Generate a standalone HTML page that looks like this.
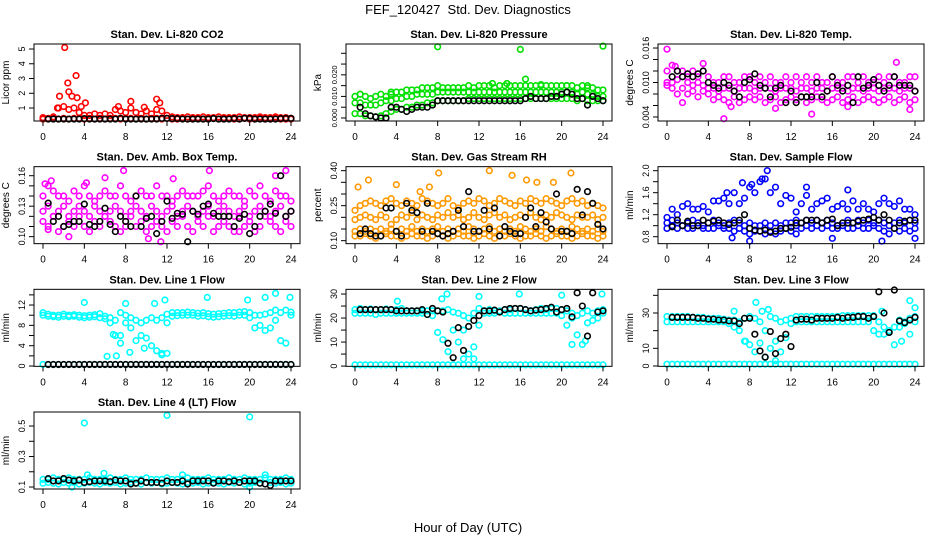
<!DOCTYPE html>
<html><head><meta charset="utf-8"><title>FEF_120427 Std. Dev. Diagnostics</title>
<style>
html,body{margin:0;padding:0;background:#fff;}
svg{display:block;font-family:"Liberation Sans",Arial,sans-serif;}
</style></head>
<body>
<svg id="chart" width="936" height="540" viewBox="0 0 936 540" xmlns="http://www.w3.org/2000/svg">
<rect x="0" y="0" width="936" height="540" fill="#fff"/>
<text x="468" y="14" font-size="13" text-anchor="middle">FEF_120427&#160; Std. Dev. Diagnostics</text>
<text x="468" y="532" font-size="13" text-anchor="middle">Hour of Day (UTC)</text>
</svg>
<script>
const H=[0,0.5,1,1.5,2,2.5,3,3.5,4,4.5,5,5.5,6,6.5,7,7.5,8,8.5,9,9.5,10,10.5,11,11.5,12,12.5,13,13.5,14,14.5,15,15.5,16,16.5,17,17.5,18,18.5,19,19.5,20,20.5,21,21.5,22,22.5,23,23.5,24];
const xTicks=[0,4,8,12,16,20,24];

/* Panel 1: CO2 */
const co2Upper=[0.35,0.3,0.4,1.0,1.1,0.9,1.0,0.7,0.5,0.5,0.6,0.5,0.6,0.5,0.9,0.8,0.7,1.0,0.7,0.6,0.8,0.6,0.9,0.8,0.5,0.4,0.35,0.35,0.4,0.35,0.35,0.4,0.35,0.35,0.4,0.35,0.35,0.35,0.4,0.35,0.35,0.35,0.4,0.35,0.35,0.4,0.35,0.35,0.3];
const co2Lower=[0.25,0.25,0.3,0.25,0.3,0.25,0.3,0.3,0.25,0.3,0.25,0.3,0.25,0.3,0.3,0.25,0.3,0.3,0.25,0.3,0.25,0.3,0.3,0.25,0.3,0.25,0.25,0.3,0.25,0.25,0.3,0.25,0.25,0.3,0.25,0.25,0.3,0.25,0.25,0.3,0.25,0.25,0.3,0.25,0.25,0.3,0.25,0.25,0.25];
const co2Black=[null,0.25,0.25,0.25,0.25,0.25,0.25,0.25,0.28,0.25,0.25,0.25,0.25,0.25,0.25,0.3,0.25,0.25,0.25,0.25,0.25,0.25,0.25,0.3,0.3,0.28,0.28,0.25,0.25,0.25,0.25,0.25,0.25,0.28,0.25,0.25,0.25,0.28,0.25,0.3,0.3,0.25,0.25,0.25,0.25,0.25,0.28,0.3,0.3];
const co2OutHours=[1.6,2.1,2.4,2.5,2.8,3.2,3.3,3.7,4.1,7.3,8.5,9.8,11,11.3,1.4];
const co2OutValues=[1.8,5.1,2.7,2.1,1.8,3.2,1.7,1.1,1.35,1.1,1.45,1.05,1.6,1.35,1.0];

/* Panel 2: Pressure */
const pUpper=[.010,.011,.010,.009,.010,.011,.010,.011,.012,.012,.013,.013,.013,.014,.014,.014,.015,.014,.014,.014,.014,.014,.015,.014,.015,.015,.015,.014,.015,.015,.015,.015,.015,.015,.015,.015,.015,.015,.015,.015,.015,.015,.015,.014,.015,.014,.014,.013,.013];
const pMid=[.007,.007,.006,.006,.006,.007,.008,.008,.009,.009,.010,.010,.011,.011,.011,.011,.012,.012,.012,.012,.012,.012,.012,.012,.012,.012,.012,.012,.012,.012,.012,.012,.012,.012,.012,.012,.012,.012,.012,.012,.012,.012,.012,.011,.012,.011,.011,.010,.010];
const pLower=[.002,.002,.001,.001,.0005,.001,.002,.003,.004,.004,.005,.005,.006,.006,.007,.007,.008,.008,.008,.008,.008,.008,.009,.009,.009,.009,.009,.009,.009,.009,.009,.009,.009,.009,.009,.009,.009,.009,.009,.009,.009,.009,.009,.008,.009,.008,.008,.008,.008];
const pBlack=[null,.005,.002,.001,.0005,.0,.0,.005,.005,.004,.003,.004,.005,.005,.005,.006,.008,.008,.008,.008,.008,.008,.008,.008,.008,.008,.008,.008,.008,.008,.008,.008,.008,.009,.010,.009,.009,.009,.010,.010,.011,.012,.011,.009,.009,.006,.010,.009,.008];
const pOutHours=[8,16,24,16.5,13.3,14.7,20.5,18,22.5,3.5,0.5];
const pOutValues=[.033,.0318,.0333,.018,.016,.016,.015,.0155,.015,.012,.011];

/* Panel 3: Li-820 Temp */
const tUpper=[.012,.013,.012,.012,.011,.012,.011,.012,.011,.010,.010,.011,.011,.010,.010,.011,.011,.010,.011,.010,.011,.010,.010,.011,.010,.011,.010,.011,.010,.011,.010,.010,.011,.010,.010,.011,.011,.010,.011,.010,.010,.011,.010,.011,.011,.010,.010,.011,.011];
const tMid=[.010,.010,.0105,.011,.010,.0095,.010,.0095,.009,.009,.0085,.009,.009,.0085,.009,.009,.009,.0085,.009,.009,.009,.0085,.009,.009,.009,.0085,.009,.009,.0085,.009,.009,.0085,.009,.009,.009,.0085,.009,.009,.0085,.009,.009,.0085,.009,.009,.009,.0085,.009,.009,.0085];
const tLower=[.0095,.009,.008,.009,.008,.0085,.0075,.0085,.008,.007,.0075,.007,.0065,.0075,.0065,.007,.0075,.007,.0075,.0065,.007,.0075,.0065,.007,.0075,.007,.0075,.0065,.007,.0075,.007,.0065,.007,.0075,.0065,.007,.0075,.0065,.007,.0075,.007,.0065,.007,.0075,.0065,.007,.0075,.0065,.007];
const tBlack=[null,.011,.012,.011,.0115,.011,.0115,.012,.010,.0095,.009,.010,.0095,.0085,.0075,.010,.0105,.0115,.0095,.009,.0075,.009,.0095,.0065,.0085,.0065,.0075,.0075,.0075,.010,.0075,.0085,.011,.0095,.0085,.0095,.0065,.011,.009,.0095,.0105,.0095,.0085,.0095,.011,.0095,.0095,.0095,.0085];
const tOutHours=[0,5.5,14,23.5,1.5,6.2,22.2,3.5,0.8,10.5,17.5];
const tOutValues=[.0158,.0037,.0045,.0053,.0065,.0058,.0135,.0133,.0128,.0055,.0058];

/* Panel 4: Amb. Box Temp */
const aUpper=[.14,.15,.145,.14,.14,.135,.145,.14,.15,.14,.135,.14,.145,.14,.14,.15,.14,.135,.14,.145,.14,.14,.15,.14,.14,.135,.14,.145,.14,.14,.14,.145,.15,.14,.135,.14,.145,.14,.14,.135,.145,.14,.15,.14,.135,.145,.14,.14,.135];
const aMid=[.125,.13,.12,.125,.13,.12,.125,.13,.125,.12,.13,.125,.12,.125,.13,.125,.12,.125,.13,.125,.12,.13,.125,.12,.125,.13,.12,.125,.13,.125,.12,.125,.13,.12,.125,.13,.125,.12,.125,.13,.12,.125,.13,.125,.12,.125,.13,.12,.125];
const aLower=[.115,.11,.12,.105,.11,.115,.11,.12,.11,.105,.115,.11,.12,.115,.11,.105,.11,.12,.11,.115,.105,.11,.115,.11,.105,.115,.11,.12,.11,.105,.115,.11,.12,.105,.11,.115,.11,.105,.12,.11,.115,.105,.11,.12,.115,.11,.105,.115,.11];
const aBlack=[null,.133,.115,.12,.11,.112,.115,.115,.132,.112,.11,.115,.128,.112,.105,.12,.115,.11,.14,.11,.118,.12,.103,.115,.135,.118,.123,.122,.095,.125,.122,.13,.132,.123,.12,.12,.12,.11,.118,.122,.103,.11,.12,.125,.132,.123,.16,.12,.125];
const aOutHours=[0.2,0.8,2.5,6,7.8,11.4,16.1,23.5,22.5,10.2,4.2,19,0.5,12.6];
const aOutValues=[.152,.155,.10,.158,.165,.095,.165,.165,.16,.098,.153,.105,.107,.157];

/* Panel 5: Gas Stream RH */
const rUpper=[.23,.25,.26,.27,.26,.25,.27,.28,.26,.25,.27,.26,.25,.28,.27,.26,.25,.26,.28,.25,.24,.26,.27,.26,.28,.27,.25,.26,.28,.27,.26,.25,.27,.26,.28,.27,.26,.28,.27,.26,.25,.27,.28,.26,.27,.25,.26,.25,.24];
const rMid=[.19,.2,.21,.2,.19,.21,.2,.17,.19,.21,.2,.22,.19,.21,.2,.19,.21,.2,.22,.2,.21,.19,.2,.22,.2,.19,.21,.22,.2,.21,.19,.2,.21,.2,.22,.2,.19,.21,.2,.22,.21,.2,.19,.21,.2,.2,.21,.19,.2];
const rLow1=[.14,.15,.14,.15,.14,.15,.14,.15,.14,.15,.14,.16,.14,.15,.14,.15,.16,.14,.15,.14,.15,.14,.16,.15,.14,.15,.16,.14,.15,.14,.15,.14,.16,.15,.14,.15,.14,.16,.15,.14,.15,.14,.16,.15,.14,.15,.14,.15,.14];
const rLow2=[.12,.12,.13,.12,.11,.12,.13,.12,.12,.11,.12,.13,.12,.12,.11,.12,.13,.12,.11,.12,.13,.12,.12,.11,.12,.13,.12,.11,.12,.12,.13,.12,.11,.12,.12,.13,.12,.11,.12,.13,.12,.12,.11,.12,.13,.12,.12,.11,.12];
const rBlack=[null,.13,.15,.13,.12,.12,.24,.24,.14,.12,.26,.23,.22,.14,.26,.14,.13,.12,.13,.14,.23,.16,.31,.14,.14,.23,.15,.24,.12,.16,.14,.13,.13,.20,.24,.16,.22,.18,.15,.30,.14,.14,.13,.32,.21,.31,.26,.17,.15];
const rOutHours=[0.3,1.3,8.1,13,15.2,20.9,16.6,19.2,7.2,4,6.3,17.6];
const rOutValues=[.33,.36,.39,.40,.38,.39,.36,.35,.33,.34,.31,.35];

/* Panel 6: Sample Flow */
const sUpper=[1.15,1.3,1.2,1.35,1.4,1.3,1.3,1.35,1.25,1.45,1.45,1.5,1.4,1.6,1.4,1.5,1.7,1.6,1.8,1.85,1.6,1.7,1.4,1.55,1.5,1.25,1.4,1.55,1.3,1.4,1.45,1.5,1.3,1.35,1.4,1.3,1.45,1.3,1.4,1.3,1.25,1.4,1.5,1.4,1.35,1.45,1.3,1.3,1.2];
const sMid=[1.05,1.1,1.05,1.0,1.05,1.1,1.05,1.0,1.05,1.1,1.05,1.0,1.05,1.1,1.05,1.0,1.05,1.0,1.0,1.05,1.0,1.05,1.0,1.05,1.05,1.1,1.05,1.1,1.05,1.1,1.05,1.1,1.05,1.0,1.05,1.1,1.05,1.1,1.05,1.1,1.05,1.1,1.05,1.0,1.05,1.1,1.05,1.1,1.05];
const sLower=[0.95,1.0,0.95,1.0,0.95,0.95,1.0,0.95,0.95,0.95,1.0,0.95,0.95,0.9,0.95,0.9,0.85,0.9,0.9,0.85,0.9,0.85,0.9,0.95,0.9,1.0,0.95,1.0,0.95,1.0,0.95,1.0,0.95,0.95,1.0,0.95,0.95,1.0,0.95,0.95,1.0,0.95,0.9,0.85,0.95,0.9,0.95,0.9,0.95];
const sBlack=[null,0.98,1.1,1.0,1.08,1.0,1.0,1.1,1.05,1.08,1.1,1.05,1.02,1.05,1.1,1.2,0.95,0.92,0.9,0.92,0.88,0.9,0.95,0.95,0.97,1.05,1.05,1.1,1.1,1.1,1.05,1.1,1.12,1.0,1.05,1.05,1.05,1.08,1.1,1.12,1.15,1.1,1.2,1.1,0.95,1.05,1.08,1.1,1.1];
const sOutHours=[9.7,8.2,7.3,6.3,8,20.8,16,24,12.5,5.8,17.5,9.2,13.5];
const sOutValues=[2.0,1.75,1.78,0.78,0.72,0.72,0.77,0.77,0.85,1.6,1.65,1.85,1.7];

/* Panel 7: Line 1 Flow */
const l1Main=[10.5,10.2,10,10,10.2,10,10.1,10,9.9,10,10.1,10.3,9.8,9.5,9,10.5,10,9.5,9,8.5,9,9.5,9,9.5,10.2,10.5,10.5,10.5,10.6,10.5,10.4,10.5,10.3,10.2,10.3,10.4,10.5,10.5,10.6,10.7,10.5,10,10,10.2,10.5,11,10.5,11,10.6];
const l1Dip=[10,9.8,9.7,9.6,9.8,9.7,9.8,9.6,9.5,9.6,9.7,9.5,9.3,8.5,6,4.5,8.5,7.5,5,6,5.5,4,3,2.5,8.5,9.8,9.9,10,10,10,9.8,9.9,9.7,9.6,9.7,9.8,9.9,9.8,10,10,9.5,7.5,8,7,7.5,9,5,4.5,10];
const l1Zero=[0.3,0.3,0.3,0.3,0.3,0.3,0.3,0.3,0.3,0.3,0.3,0.3,0.3,0.3,0.3,0.3,0.3,0.3,0.3,0.3,0.3,0.3,0.3,0.3,0.3,0.3,0.3,0.3,0.3,0.3,0.3,0.3,0.3,0.3,0.3,0.3,0.3,0.3,0.3,0.3,0.3,0.3,0.3,0.3,0.3,0.3,0.3,0.3,0.3];
const l1Black=[null,0.3,0.3,0.3,0.3,0.3,0.3,0.3,0.3,0.3,0.3,0.3,0.3,0.3,0.3,0.3,0.3,0.3,0.3,0.3,0.3,0.3,0.3,0.3,0.3,0.3,0.3,0.3,0.3,0.3,0.3,0.3,0.3,0.3,0.3,0.3,0.3,0.3,0.3,0.3,0.3,0.3,0.3,0.3,0.3,0.3,0.3,0.3,0.3];
const l1OutHours=[4,8,10.8,11.8,15.9,21.5,22.5,23.9,6.2,7.1,11.5,12,9.8,8.4,19.8,6.8,7.5];
const l1OutValues=[12.5,12.3,12.3,13,13.5,13.5,14.3,13.5,1.9,2,2.2,2.5,3.5,2.7,13,6.2,6];

/* Panel 8: Line 2 Flow */
const l2Main=[23.5,24,23.5,23.8,23.5,23.5,23.8,23.5,23.5,24,23,23,23,23,23,23,23,23,23.5,22.5,22,21,20,22,24,23,23.5,23,23,23.5,23.5,24,24,23.5,23,23.5,24,23.5,24,24,23.5,23,22,21,22,23,22,23,23.5];
const l2Dip=[22,22,22,22,21.5,22,22,22,22,22,22,22,22,22,21.5,21,14,11,6,15,10,15,5,8,17,22,22,22,22.5,22,22,22,22,22,22,22,22,22,22,22,21,17,20,13,9,18,19,20,22];
const l2Zero=[0.5,0.5,0.5,0.5,0.5,0.5,0.5,0.5,0.5,0.5,0.5,0.5,0.5,0.5,0.5,0.5,0.5,0.5,0.5,0.5,0.5,0.5,0.5,0.5,0.5,0.5,0.5,0.5,0.5,0.5,0.5,0.5,0.5,0.5,0.5,0.5,0.5,0.5,0.5,0.5,0.5,0.5,0.5,0.5,0.5,0.5,0.5,0.5,0.5];
const l2Black=[null,23.5,23.5,23.5,23.5,23.5,23.5,23.5,23,23,23,23,23,23.5,21.5,24,23,22.5,9.5,3.5,16,6.5,16.5,19,21,23,23,23.3,22.5,23.5,24,24,24,23.5,23,23.3,23.5,24,24.5,22.5,23.5,24,20.5,30.5,25,12.5,30.5,22.5,23];
const l2OutHours=[8.9,15.9,23.9,12,20,8.4,10.5,11.5,21,22.3,4.1];
const l2OutValues=[30,30,30,29,29.5,28,3,3,9,10.5,27];

/* Panel 9: Line 3 Flow */
const l3Main=[28,28,28,28,28,27.5,27.5,27.5,27,27,27,26.5,26,26,25,27,28,27,25,20,28,27,25,26,27,28,28,28,28,28,28,28,28,28,28.5,28.5,28.5,28.5,28.5,28.5,28.5,25,22,19,22,26,25,27,28];
const l3Dip=[25,25,25,25,25,25,25,25,25,25,25,25,24,22,20,14,12,8,13,5,10,14,8,16,24,25,25,25,25,25,25,25,25,25,25,25,25,25,25,25,20,18,18,20,12,22,24,18,25];
const l3Zero=[1,1,1,1,1,1,1,1,1,1,1,1,1,1,1,1,1,1,1,1,1,1,1,1,1,1,1,1,1,1,1,1,1,1,1,1,1,1,1,1,1,1,1,1,1,1,1,1,1];
const l3Black=[null,27.5,27.5,27.5,27.5,27.5,27,27,26.5,26.5,26,26,25.5,25.5,24,27,27,18,8.5,5,19.5,7,15.5,18,11,26,26.5,26.5,26,27,27,27,27,27.5,27,27.5,27.5,28,28,27,28,42,30,19,43,25.5,24.5,26,27.5];
const l3OutHours=[8.6,9.2,9.8,20.8,23.5,24,22.7,7.6,6.5,10.5];
const l3OutValues=[36,31,32,31,37,33,14,14,31,3];

/* Panel 10: Line 4 (LT) Flow */
const l4Upper=[.15,.15,.16,.15,.15,.16,.15,.15,.15,.16,.15,.15,.15,.16,.15,.15,.16,.15,.15,.15,.16,.15,.15,.15,.16,.15,.15,.15,.16,.15,.15,.15,.16,.15,.15,.15,.16,.15,.15,.16,.15,.15,.15,.16,.15,.15,.15,.16,.15];
const l4Lower=[.125,.13,.125,.12,.13,.125,.13,.12,.125,.13,.125,.12,.13,.125,.13,.12,.125,.13,.125,.12,.13,.125,.13,.12,.125,.13,.125,.12,.13,.125,.13,.12,.125,.13,.125,.12,.13,.125,.13,.12,.125,.13,.125,.12,.13,.125,.13,.12,.125];
const l4Black=[null,.155,.14,.14,.155,.145,.14,.145,.13,.135,.14,.14,.14,.135,.145,.14,.14,.12,.125,.14,.13,.13,.13,.125,.14,.13,.13,.14,.12,.14,.14,.14,.14,.125,.14,.14,.135,.14,.13,.14,.14,.14,.125,.12,.11,.14,.14,.14,.14];
const l4OutHours=[4,12,20,5.9,13.5,2.8,20,4.3,21.5];
const l4OutValues=[.52,.57,.56,.19,.18,.10,.10,.18,.18];

const NS='http://www.w3.org/2000/svg';
const svg=document.getElementById('chart');
function mk(tag,attrs,parent){const e=document.createElementNS(NS,tag);for(const k in attrs)e.setAttribute(k,attrs[k]);(parent||svg).appendChild(e);return e;}

const COLS=[34,346,658], ROWS=[44,166.67,289.33,412], BW=266, BH=77;

const panels=[
 {key:'co2',title:'Stan. Dev. Li-820 CO2',ylab:'Licor ppm',c:0,r:0,lim:[0.12,5.34],ticks:[1,2,3,4,5],labs:['1','2','3','4','5'],labAt:[1,2,3,4,5],color:'#ff0000',series:[co2Lower,co2Upper],outH:co2OutHours,outV:co2OutValues,black:co2Black},
 {key:'pressure',title:'Stan. Dev. Li-820 Pressure',ylab:'kPa',c:1,r:0,lim:[-0.0014,0.0343],ticks:[0,.005,.01,.015,.02,.025,.03],labs:['0.000','0.010','0.020'],labAt:[0,.01,.02],fs:7.5,color:'#00e000',series:[pLower,pMid,pUpper],outH:pOutHours,outV:pOutValues,black:pBlack},
 {key:'temp',title:'Stan. Dev. Li-820 Temp.',ylab:'degrees C',c:2,r:0,lim:[0.0033,0.0167],ticks:[.004,.006,.008,.010,.012,.014,.016],labs:['0.004','0.010','0.016'],labAt:[.004,.010,.016],color:'#ff00ff',series:[tLower,tMid,tUpper],outH:tOutHours,outV:tOutValues,black:tBlack},
 {key:'amb',title:'Stan. Dev. Amb. Box Temp.',ylab:'degrees C',c:0,r:1,lim:[0.0931,0.1689],ticks:[.10,.11,.12,.13,.14,.15,.16],labs:['0.10','0.13','0.16'],labAt:[.10,.13,.16],color:'#ff00ff',series:[aLower,aMid,aUpper],outH:aOutHours,outV:aOutValues,black:aBlack},
 {key:'rh',title:'Stan. Dev. Gas Stream RH',ylab:'percent',c:1,r:1,lim:[0.0871,0.4171],ticks:[.10,.15,.20,.25,.30,.35,.40],labs:['0.10','0.25','0.40'],labAt:[.10,.25,.40],color:'#ff9900',series:[rLow2,rLow1,rMid,rUpper],outH:rOutHours,outV:rOutValues,black:rBlack},
 {key:'sample',title:'Stan. Dev. Sample Flow',ylab:'ml/min',c:2,r:1,lim:[0.673,2.073],ticks:[.8,1.0,1.2,1.4,1.6,1.8,2.0],labs:['0.8','1.2','1.6','2.0'],labAt:[.8,1.2,1.6,2.0],color:'#0000ff',series:[sLower,sMid,sUpper],outH:sOutHours,outV:sOutValues,black:sBlack},
 {key:'line1',title:'Stan. Dev. Line 1 Flow',ylab:'ml/min',c:0,r:2,lim:[-0.06,15.09],ticks:[0,2,4,6,8,10,12,14],labs:['0','4','8','12'],labAt:[0,4,8,12],color:'#00ffff',series:[l1Zero,l1Dip,l1Main],outH:l1OutHours,outV:l1OutValues,black:l1Black},
 {key:'line2',title:'Stan. Dev. Line 2 Flow',ylab:'ml/min',c:1,r:2,lim:[-0.1,31.96],ticks:[0,5,10,15,20,25,30],labs:['0','10','20','30'],labAt:[0,10,20,30],color:'#00ffff',series:[l2Zero,l2Dip,l2Main],outH:l2OutHours,outV:l2OutValues,black:l2Black},
 {key:'line3',title:'Stan. Dev. Line 3 Flow',ylab:'ml/min',c:2,r:2,lim:[-0.2,43.4],ticks:[0,10,20,30,40],labs:['0','10','30'],labAt:[0,10,30],color:'#00ffff',series:[l3Zero,l3Dip,l3Main],outH:l3OutHours,outV:l3OutValues,black:l3Black},
 {key:'line4',title:'Stan. Dev. Line 4 (LT) Flow',ylab:'ml/min',c:0,r:3,lim:[0.087,0.592],ticks:[.1,.2,.3,.4,.5],labs:['0.1','0.3','0.5'],labAt:[.1,.3,.5],color:'#00ffff',series:[l4Lower,l4Upper],outH:l4OutHours,outV:l4OutValues,black:l4Black}
];

panels.forEach(p=>{
  const L=COLS[p.c], T=ROWS[p.r], R=L+BW, B=T+BH;
  const xs=h=>L+9+h/24*(BW-18);
  const ys=v=>B-(v-p.lim[0])/(p.lim[1]-p.lim[0])*BH;
  const g=mk('g',{});
  
  
  const t=mk('text',{x:(L+R)/2,y:T-6,'font-size':11,'font-weight':'bold','text-anchor':'middle'},g);
  t.textContent=p.title;
  
  
  const yl=mk('text',{x:0,y:0,'font-size':10,'text-anchor':'middle',transform:`translate(${L-25},${(T+B)/2}) rotate(-90)`},g);
  yl.textContent=p.ylab;
  
  
  const pts=mk('g',{fill:'none','stroke-width':1.6},g);
  
  
  p.series.forEach(arr=>{
    arr.forEach((v,i)=>{
      if(v==null||i>=H.length)return;
      const c=mk('circle',{cx:xs(H[i]),cy:ys(v),r:2.8,stroke:p.color},pts);
      
      
    });
  });
  p.outH.forEach((h,i)=>{
    const c=mk('circle',{cx:xs(h),cy:ys(p.outV[i]),r:2.8,stroke:p.color},pts);
    
    
  });
  p.black.forEach((v,i)=>{
    if(v==null||i>=H.length)return;
    const c=mk('circle',{cx:xs(H[i]),cy:ys(v),r:2.8,stroke:'#000'},pts);
    
    
  });
  const box=mk('rect',{x:L,y:T,width:BW,height:BH,fill:'none',stroke:'#000','stroke-width':1},g);
  
  
  const xa=mk('g',{},g);
  
  
  xTicks.forEach(h=>{
    mk('line',{x1:xs(h),x2:xs(h),y1:B,y2:B+5,stroke:'#000'},xa);
    const tl=mk('text',{x:xs(h),y:B+19,'font-size':10,'text-anchor':'middle'},xa);
    tl.textContent=String(h);
    
    
  });
  const ya=mk('g',{},g);
  
  
  p.ticks.forEach(v=>{mk('line',{x1:L-5,x2:L,y1:ys(v),y2:ys(v),stroke:'#000'},ya);});
  p.labAt.forEach((v,i)=>{
    const tl=mk('text',{x:0,y:0,'font-size':(p.fs||9),'text-anchor':'middle',transform:`translate(${L-9},${ys(v)}) rotate(-90)`},ya);
    tl.textContent=p.labs[i];
    
    
  });
});
</script>
</body></html>
